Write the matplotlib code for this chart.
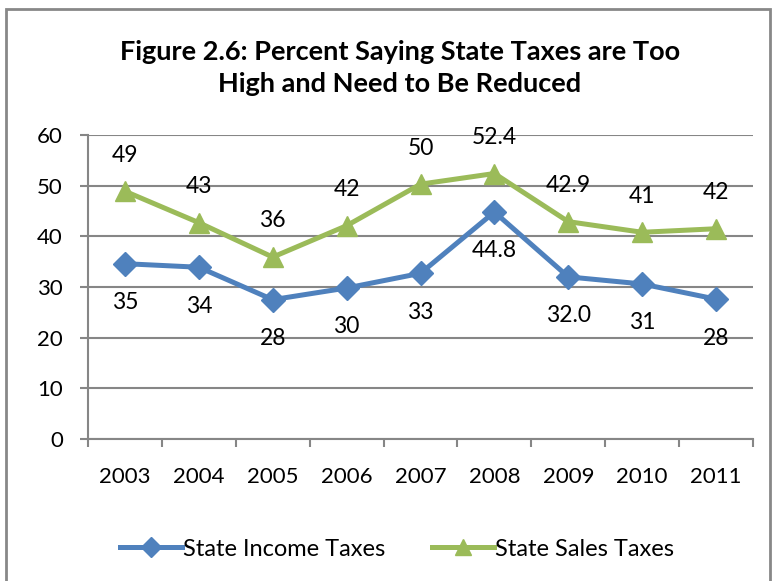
import matplotlib
matplotlib.use("Agg")
import matplotlib.pyplot as plt
from matplotlib.patches import Rectangle
from matplotlib.lines import Line2D

years = ["2003", "2004", "2005", "2006", "2007", "2008", "2009", "2010", "2011"]
income = [34.6, 33.9, 27.5, 29.8, 32.7, 44.8, 32.0, 30.6, 27.6]
sales = [48.9, 42.7, 35.9, 42.1, 50.3, 52.4, 42.9, 40.8, 41.5]
income_labels = ["35", "34", "28", "30", "33", "44.8", "32.0", "31", "28"]
sales_labels = ["49", "43", "36", "42", "50", "52.4", "42.9", "41", "42"]
title = "Figure 2.6: Percent Saying State Taxes are Too\nHigh and Need to Be Reduced"

plt.rcParams['font.family'] = ['Lato', 'DejaVu Sans']

BLUE = "#4F81BD"
GREEN = "#9BBB59"
GRID = "#868686"

W, H = 774, 581
fig = plt.figure(figsize=(W / 100, H / 100), dpi=100)
ax = fig.add_axes([88 / W, (H - 439) / H, (753 - 88) / W, (439 - 135) / H])

x = [i + 0.5 for i in range(len(years))]
ax.plot(x, income, color=BLUE, lw=3.6, marker="D", markersize=12, zorder=3, clip_on=False)
ax.plot(x, sales, color=GREEN, lw=3.6, marker="^", markersize=14, zorder=3, clip_on=False)

for xi, v, lab in zip(x, income, income_labels):
    ax.annotate(lab, (xi, v), xytext=(0, -28), textcoords="offset points",
                ha="center", va="center", fontsize=16.5, color="black")
for xi, v, lab in zip(x, sales, sales_labels):
    ax.annotate(lab, (xi, v), xytext=(0, 26), textcoords="offset points",
                ha="center", va="center", fontsize=16.5, color="black")

ax.set_xlim(0, len(years))
ax.set_ylim(0, 60)
ax.set_yticks(range(0, 61, 10))
ax.set_xticks(range(0, len(years) + 1))
ax.set_xticklabels([])
ax.set_xticks(x, minor=True)
ax.set_xticklabels(years, minor=True, fontsize=16)
ax.tick_params(axis="x", which="major", length=6, width=1.5, color=GRID, direction="out")
ax.tick_params(axis="x", which="minor", length=0, pad=20)
ax.tick_params(axis="y", length=6, width=1.5, color=GRID, pad=12, labelsize=16)

ax.grid(axis="y", color=GRID, lw=1.5, zorder=0)
ax.set_axisbelow(True)
for s in ["top", "right"]:
    ax.spines[s].set_visible(False)
for s in ["left", "bottom"]:
    ax.spines[s].set_color(GRID)
    ax.spines[s].set_linewidth(1.5)

fig.text(400 / W, 1 - 68 / H, title, ha="center", va="center", fontsize=19.5,
         fontweight="bold", linespacing=1.45)

handles = [
    Line2D([], [], color=BLUE, lw=3.6, marker="D", markersize=10),
    Line2D([], [], color=GREEN, lw=3.6, marker="^", markersize=12),
]
fig.legend(handles, ["State Income Taxes", "State Sales Taxes"], loc="center",
           bbox_to_anchor=(397 / W, 1 - 549 / H), ncol=2, frameon=False,
           fontsize=17, handlelength=2.6, handletextpad=0.05, columnspacing=2.0)

fig.add_artist(Rectangle((6 / W, -0.05), (770 - 6) / W, 1.05 - 9 / H,
                         transform=fig.transFigure, fill=False,
                         edgecolor="#888888", lw=2))

fig.savefig("out.png", dpi=100)
